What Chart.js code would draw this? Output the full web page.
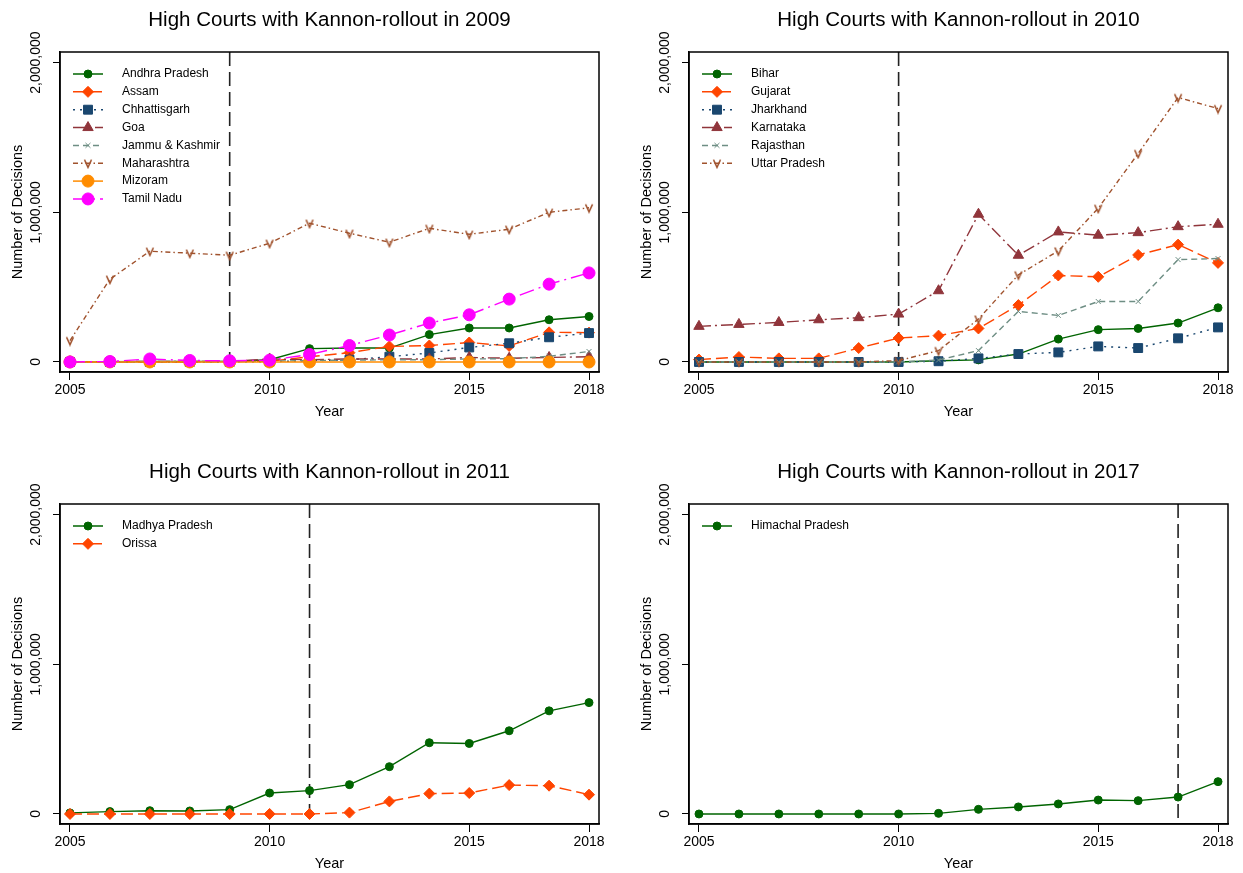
<!DOCTYPE html>
<html>
<head>
<meta charset="utf-8">
<title>High Courts with Kannon-rollout</title>
<script src="https://cdn.jsdelivr.net/npm/chart.js@4.4.0/dist/chart.umd.min.js"></script>
<style>
  html, body { margin: 0; padding: 0; background: #fff; overflow: hidden; }
  canvas { position: absolute; }
</style>
</head>
<body>
<canvas id="c1" width="621" height="436" style="left:0;top:0"></canvas>
<canvas id="c2" width="614" height="436" style="left:629px;top:0"></canvas>
<canvas id="c3" width="621" height="436" style="left:0;top:452px"></canvas>
<canvas id="c4" width="614" height="436" style="left:629px;top:452px"></canvas>
<script>
// ---- data ----
const years = [2005, 2006, 2007, 2008, 2009, 2010, 2011, 2012, 2013, 2014, 2015, 2016, 2017, 2018];
const xTicks = [2005, 2010, 2015, 2018];
const yTicks = [0, 1000000, 2000000];

// rollout 2009
const andhraPradesh = [0, 2000, 3000, 3000, 4000, 15000, 89000, 93000, 93000, 183000, 227000, 227000, 282000, 304000];
const assam = [0, 0, 0, 0, 2000, 5000, 35000, 62000, 104000, 110000, 130000, 107000, 198000, 196000];
const chhattisgarh = [0, 0, 0, 0, 0, 2000, 8000, 15000, 35000, 60000, 97000, 125000, 165000, 193000];
const goa = [2000, 2000, 3000, 3000, 4000, 20000, 15000, 20000, 20000, 20000, 30000, 25000, 30000, 35000];
const jammuKashmir = [1000, 1000, 2000, 2000, 3000, 5000, 10000, 12000, 15000, 15000, 20000, 22000, 38000, 70000];
const maharashtra = [143000, 553000, 740000, 727000, 713000, 793000, 927000, 860000, 800000, 893000, 853000, 887000, 1000000, 1030000];
const mizoram = [0, 0, 0, 0, 0, 0, 0, 0, 0, 0, 0, 0, 0, 0];
const tamilNadu = [0, 3000, 20000, 10000, 8000, 12000, 50000, 110000, 180000, 260000, 315000, 420000, 520000, 595000];

// rollout 2010
const bihar = [0, 0, 0, 0, 0, 0, 8000, 14000, 53000, 153000, 216000, 224000, 260000, 362000];
const gujarat = [16000, 33000, 24000, 24000, 93000, 160000, 176000, 224000, 380000, 578000, 569000, 715000, 784000, 662000];
const jharkhand = [0, 0, 0, 0, 0, 0, 5000, 24000, 53000, 64000, 104000, 93000, 158000, 231000];
const karnataka = [238000, 251000, 264000, 282000, 296000, 320000, 476000, 987000, 713000, 869000, 847000, 864000, 904000, 920000];
const rajasthan = [0, 0, 0, 0, 0, 0, 13000, 76000, 338000, 311000, 404000, 404000, 684000, 691000];
const uttarPradesh = [0, 0, 0, 0, 0, 9000, 76000, 287000, 582000, 742000, 1027000, 1393000, 1767000, 1693000];

// rollout 2011
const madhyaPradesh = [7000, 16000, 22000, 20000, 29000, 140000, 156000, 196000, 316000, 476000, 471000, 556000, 689000, 744000];
const orissa = [0, 0, 0, 0, 0, 0, 0, 9000, 84000, 136000, 140000, 193000, 189000, 129000];

// rollout 2017
const himachalPradesh = [0, 0, 0, 0, 0, 0, 4000, 31000, 47000, 67000, 93000, 89000, 113000, 216000];

// ---- styles (Stata-like) ----
function vMarker(color) {
    const c = document.createElement('canvas');
    c.width = 12; c.height = 12;
    const g = c.getContext('2d');
    g.strokeStyle = color;
    g.lineWidth = 1.6;
    g.beginPath();
    g.moveTo(2.5, 2.5); g.lineTo(6, 10); g.lineTo(9.5, 2.5);
    g.stroke();
    return c;
}

const styles = [
    { color: '#006400', dash: [], point: 'circle', r: 4 },
    { color: '#ff4500', dash: [12, 5], point: 'rectRot', r: 5.5 },
    { color: '#1a476f', dash: [2, 5], point: 'rect', r: 6.3 },
    { color: '#90353b', dash: [12, 4, 2, 4], point: 'triangle', r: 6 },
    { color: '#6e8e84', dash: [6, 4], point: 'crossRot', r: 3.5 },
    { color: '#a0522d', dash: [5, 3, 1.5, 3], point: 'v', r: 5 },
    { color: '#ff8c00', dash: [], point: 'circle', r: 6 },
    { color: '#ff00ff', dash: [15, 5, 2, 5], point: 'circle', r: 6 }
];

function makeDatasets(names, series) {
    const n = series.length;
    return series.map((vals, i) => {
        const s = styles[i];
        const ps = s.point === 'v' ? vMarker(s.color) : s.point;
        return {
            label: names[i],
            data: vals.map((v, k) => ({ x: years[k], y: v })),
            borderColor: s.color,
            backgroundColor: s.color,
            borderWidth: 1.4,
            borderDash: s.dash,
            pointStyle: ps,
            pointRadius: s.r,
            pointBorderWidth: 1,
            pointBackgroundColor: s.color,
            pointBorderColor: s.color,
            tension: 0,
            clip: false,
            order: n - i,
            _legendStyle: s
        };
    });
}

const FONT = '"Liberation Sans", Arial, sans-serif';

const decorPlugin = {
    id: 'decor',
    beforeDatasetsDraw(chart, args, opts) {
        const { ctx, chartArea: a, scales } = chart;
        const x = scales.x.getPixelForValue(opts.rollout);
        ctx.save();
        ctx.strokeStyle = '#222';
        ctx.lineWidth = 1.6;
        ctx.setLineDash([14, 6]);
        ctx.beginPath();
        ctx.moveTo(x, a.top);
        ctx.lineTo(x, a.bottom);
        ctx.stroke();
        ctx.restore();
    },
    afterDraw(chart, args, opts) {
        const { ctx, chartArea: a, scales } = chart;
        ctx.save();
        // plot frame
        ctx.strokeStyle = '#000';
        ctx.lineWidth = 1.5;
        ctx.strokeRect(a.left, a.top, a.right - a.left, a.bottom - a.top);

        // title
        ctx.fillStyle = '#000';
        ctx.font = '20.5px ' + FONT;
        ctx.textAlign = 'center';
        ctx.textBaseline = 'middle';
        ctx.fillText(opts.title, (a.left + a.right) / 2, 20);

        // rotated y tick labels
        ctx.font = '14px ' + FONT;
        yTicks.forEach(v => {
            const y = scales.y.getPixelForValue(v);
            ctx.save();
            ctx.translate(a.left - 24, y);
            ctx.rotate(-Math.PI / 2);
            ctx.fillText(v.toLocaleString('en-US'), 0, 0);
            ctx.restore();
        });

        // legend inside plot, top-left
        ctx.font = '12px ' + FONT;
        ctx.textAlign = 'left';
        chart.data.datasets.forEach((ds, i) => {
            const s = ds._legendStyle;
            const y = a.top + 22 + i * 17.85;
            const x0 = a.left + 13;
            ctx.strokeStyle = s.color;
            ctx.fillStyle = s.color;
            ctx.lineWidth = 1.5;
            ctx.setLineDash(s.dash);
            ctx.beginPath();
            ctx.moveTo(x0, y);
            ctx.lineTo(x0 + 30, y);
            ctx.stroke();
            ctx.setLineDash([]);
            ctx.lineWidth = 1;
            Chart.helpers.drawPoint(ctx, { pointStyle: ds.pointStyle, radius: s.r, rotation: 0, borderWidth: 1 }, x0 + 15, y);
            ctx.fillStyle = '#000';
            ctx.fillText(ds.label, a.left + 62, y);
        });
        ctx.restore();
    }
};

function buildChart(id, title, rollout, names, series, padRight) {
    const ctx = document.getElementById(id).getContext('2d');
    return new Chart(ctx, {
        type: 'line',
        data: { datasets: makeDatasets(names, series) },
        options: {
            responsive: false,
            animation: false,
            events: [],
            layout: { padding: { top: 52, right: padRight, left: 0, bottom: 0 } },
            scales: {
                x: {
                    type: 'linear',
                    min: 2004.75,
                    max: 2018.25,
                    afterBuildTicks: axis => { axis.ticks = xTicks.map(v => ({ value: v })); },
                    afterFit: scale => { scale.height = 64; scale.paddingLeft = 0; scale.paddingRight = 0; },
                    ticks: {
                        color: '#000',
                        padding: 2,
                        maxRotation: 0,
                        font: { family: FONT, size: 14 },
                        callback: v => String(v)
                    },
                    grid: { drawOnChartArea: false, drawTicks: true, tickLength: 8, color: '#000', lineWidth: 1 },
                    border: { display: true, color: '#000', width: 1.5 },
                    title: {
                        display: true,
                        text: 'Year',
                        color: '#000',
                        font: { family: FONT, size: 14.5 },
                        padding: { top: 0, bottom: 15 }
                    }
                },
                y: {
                    min: -67000,
                    max: 2071000,
                    afterBuildTicks: axis => { axis.ticks = yTicks.map(v => ({ value: v })); },
                    afterFit: scale => { scale.width = 60; },
                    ticks: { display: false },
                    grid: { drawOnChartArea: false, drawTicks: true, tickLength: 7, color: '#000', lineWidth: 1 },
                    border: { display: true, color: '#000', width: 1.5 },
                    title: {
                        display: true,
                        text: 'Number of Decisions',
                        color: '#000',
                        font: { family: FONT, size: 14.5 },
                        padding: { top: 9, bottom: 0 }
                    }
                }
            },
            plugins: {
                legend: { display: false },
                tooltip: { enabled: false },
                decor: { title: title, rollout: rollout }
            }
        },
        plugins: [decorPlugin]
    });
}

buildChart('c1', 'High Courts with Kannon-rollout in 2009', 2009,
    ['Andhra Pradesh', 'Assam', 'Chhattisgarh', 'Goa', 'Jammu & Kashmir', 'Maharashtra', 'Mizoram', 'Tamil Nadu'],
    [andhraPradesh, assam, chhattisgarh, goa, jammuKashmir, maharashtra, mizoram, tamilNadu], 22);

buildChart('c2', 'High Courts with Kannon-rollout in 2010', 2010,
    ['Bihar', 'Gujarat', 'Jharkhand', 'Karnataka', 'Rajasthan', 'Uttar Pradesh'],
    [bihar, gujarat, jharkhand, karnataka, rajasthan, uttarPradesh], 15);

buildChart('c3', 'High Courts with Kannon-rollout in 2011', 2011,
    ['Madhya Pradesh', 'Orissa'],
    [madhyaPradesh, orissa], 22);

buildChart('c4', 'High Courts with Kannon-rollout in 2017', 2017,
    ['Himachal Pradesh'],
    [himachalPradesh], 15);
</script>
</body>
</html>
